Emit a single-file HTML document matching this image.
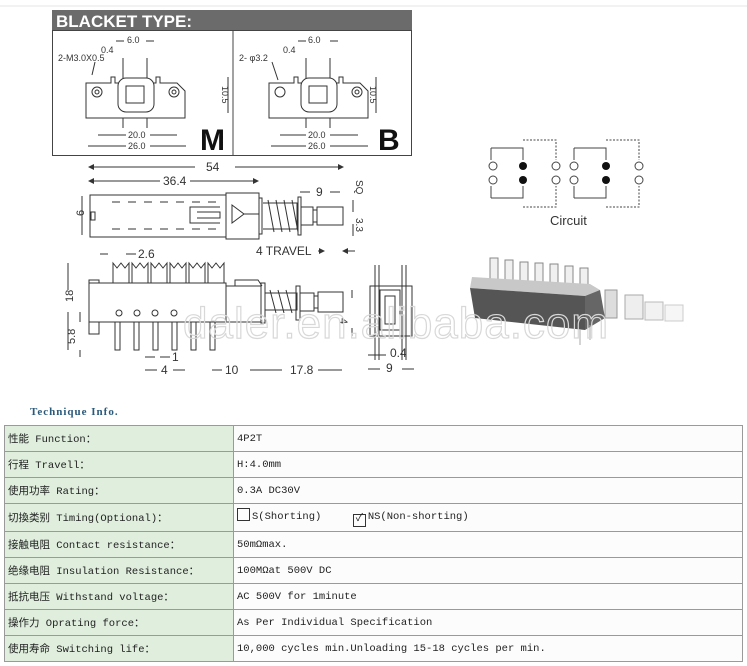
<!DOCTYPE html>
<html><head><meta charset="utf-8"><style>
body{margin:0;width:747px;height:666px;background:#fff;overflow:hidden;position:relative;font-family:"Liberation Sans",sans-serif}
svg{position:absolute;left:0;top:0}
.t{position:absolute;left:4px;top:425px;border-collapse:collapse;width:739px;font-family:"Liberation Mono","Noto Sans CJK SC",monospace;font-size:10.5px;color:#222}
.t td{border:1px solid #9a9a9a;height:25px;padding:0 0 0 3px;white-space:nowrap}
.t td.l{background:#dfeedd;width:225px}
.t td.r{background:#fcfcfc}
.hd{position:absolute;left:30px;top:406px;font-family:"Liberation Serif",serif;font-weight:bold;font-size:11px;color:#2a5a7a;letter-spacing:1px}
.bx{display:inline-block;width:11px;height:11px;border:1px solid #333;vertical-align:-2px;margin-right:2px}
</style></head><body>
<svg width="747" height="400" viewBox="0 0 747 400" font-family="Liberation Sans, sans-serif">
<defs><marker id="a" markerWidth="6" markerHeight="6" refX="5" refY="3" orient="auto-start-reverse"><path d="M0,0L6,3L0,6z" fill="#333"/></marker></defs>
<line x1="0" y1="6" x2="747" y2="6" stroke="#e4e4e4"/>
<rect x="52" y="10" width="360" height="20" fill="#6b6b6b"/>
<text x="56" y="27" fill="#fff" font-weight="bold" font-size="17">BLACKET TYPE:</text>
<rect x="52.5" y="30.5" width="359" height="125" fill="none" stroke="#444"/>
<line x1="233" y1="30" x2="233" y2="156" stroke="#444"/>
<g fill="none" stroke="#333" stroke-width="1">
<path d="M123,58V128M147,58V128M306,58V128M330,58V128"/>
<path d="M86,83H111V77H115V83H156V77H160V83H177L185,91V118H86Z" fill="#fff"/>
<rect x="118" y="78" width="36" height="34" rx="8" fill="#fff"/><rect x="126" y="86" width="18" height="17"/>
<circle cx="97" cy="92" r="5"/><circle cx="97" cy="92" r="2"/><circle cx="174" cy="92" r="5"/><circle cx="174" cy="92" r="2"/>
<path d="M95,62L92,75"/>
<path d="M228,77V113"/>
<path d="M269,83H294V77H298V83H339V77H343V83H360L368,91V118H269Z" fill="#fff"/>
<rect x="301" y="78" width="36" height="34" rx="8" fill="#fff"/><rect x="309" y="86" width="18" height="17"/>
<circle cx="280" cy="92" r="5"/><circle cx="357" cy="92" r="5"/><circle cx="357" cy="92" r="2"/>
<path d="M272,62L278,80"/>
<path d="M376,77V113"/>
</g>
<g font-size="9" fill="#333">
<text x="127" y="43">6.0</text><text x="101" y="53">0.4</text><text x="58" y="61">2-M3.0X0.5</text>
<text x="128" y="138">20.0</text><text x="128" y="149">26.0</text>
<text x="308" y="43">6.0</text><text x="283" y="53">0.4</text><text x="239" y="61">2- φ3.2</text>
<text x="308" y="138">20.0</text><text x="308" y="149">26.0</text>
<text x="222" y="86" transform="rotate(90 222 86)">10.5</text>
<text x="370" y="86" transform="rotate(90 370 86)">10.5</text>
</g>
<g stroke="#333" stroke-width="1">
<line x1="98" y1="135" x2="126" y2="135"/><line x1="150" y1="135" x2="177" y2="135"/>
<line x1="88" y1="146" x2="126" y2="146"/><line x1="150" y1="146" x2="186" y2="146"/>
<line x1="280" y1="135" x2="306" y2="135"/><line x1="330" y1="135" x2="358" y2="135"/>
<line x1="271" y1="146" x2="306" y2="146"/><line x1="330" y1="146" x2="368" y2="146"/>
<line x1="116" y1="41" x2="124" y2="41"/><line x1="146" y1="41" x2="154" y2="41"/>
<line x1="298" y1="41" x2="306" y2="41"/><line x1="330" y1="41" x2="338" y2="41"/>
</g>
<text x="200" y="150" font-size="30" font-weight="bold" fill="#111">M</text>
<text x="378" y="150" font-size="30" font-weight="bold" fill="#111">B</text>
<g stroke="#333" fill="none">
<line x1="89" y1="167" x2="195" y2="167" marker-start="url(#a)"/><line x1="235" y1="167" x2="343" y2="167" marker-end="url(#a)"/>
<line x1="89" y1="181" x2="160" y2="181" marker-start="url(#a)"/><line x1="190" y1="181" x2="258" y2="181" marker-end="url(#a)"/>
<rect x="90" y="195" width="136" height="42"/>
<rect x="91" y="212" width="4" height="8"/>
<path d="M112,202h8m8,0h8m8,0h8m8,0h8m8,0h8m8,0h8m8,0h8M112,229h8m8,0h8m8,0h8m8,0h8m8,0h8m8,0h8m8,0h8"/>
<path d="M220,207H190V223H220M197,212H220V218H197"/>
<rect x="226" y="193" width="33" height="46"/><path d="M232,205L244,214L232,223Z M244,214H259"/>
<rect x="259" y="198" width="3" height="36"/>
<path d="M263,203H297V229H263M268,200L274,232M276,200L282,232M284,200L290,232M292,200L298,232"/>
<rect x="298" y="197" width="3" height="38"/><rect x="301" y="207" width="12" height="18"/><rect x="313" y="210" width="4" height="12"/><rect x="317" y="207" width="26" height="18"/>
<line x1="82" y1="196" x2="82" y2="235"/>
<line x1="353" y1="200" x2="353" y2="212"/><line x1="353" y1="224" x2="353" y2="236"/>
<line x1="300" y1="192" x2="310" y2="192"/><line x1="330" y1="192" x2="340" y2="192"/>
<line x1="318" y1="251" x2="324" y2="251" marker-end="url(#a)"/><line x1="343" y1="251" x2="355" y2="251" marker-start="url(#a)"/>
<line x1="100" y1="254" x2="108" y2="254"/><line x1="126" y1="254" x2="136" y2="254"/>
</g>
<g font-size="12" fill="#333">
<text x="206" y="171">54</text><text x="163" y="185">36.4</text><text x="316" y="196">9</text>
<text x="256" y="255">4 TRAVEL</text><text x="138" y="258">2.6</text>
<text x="77" y="223" transform="rotate(-90 77 216)" font-size="11">6</text>
<text x="356" y="218" transform="rotate(90 356 218)" font-size="10">3.3</text>
<text x="356" y="180" transform="rotate(90 356 180)" font-size="10">SQ</text>
<text x="70" y="305" transform="rotate(-90 70 302)" font-size="11">18</text>
<text x="68" y="343" transform="rotate(-90 72 340)" font-size="11">5.8</text>
<text x="172" y="361">1</text><text x="161" y="374">4</text><text x="225" y="374">10</text><text x="290" y="374">17.8</text>
<text x="390" y="357">0.4</text><text x="386" y="372">9</text>
<text x="347" y="325" transform="rotate(90 347 318)" font-size="11">4</text>
</g>
<g stroke="#333" fill="none">
<rect x="89" y="283" width="137" height="39"/><rect x="89" y="280" width="10" height="3"/><rect x="89" y="322" width="10" height="12"/>
<path d="M113,283V263l4,5l4,-5l4,5l4,-5V283M132,283V263l4,5l4,-5l4,5l4,-5V283M151,283V263l4,5l4,-5l4,5l4,-5V283M170,283V263l4,5l4,-5l4,5l4,-5V283M189,283V263l4,5l4,-5l4,5l4,-5V283M208,283V263l4,5l4,-5l4,5l4,-5V283"/>
<path d="M115,322V350h5V322M134,322V350h5V322M153,322V350h5V322M172,322V350h5V322M191,322V350h5V322M210,322V350h5V322"/>
<circle cx="119" cy="313" r="3"/><circle cx="137" cy="313" r="3"/><circle cx="155" cy="313" r="3"/><circle cx="174" cy="313" r="3"/>
<rect x="226" y="286" width="35" height="36"/><path d="M235,286V280H258L262,286"/>
<rect x="261" y="283" width="4" height="40"/><path d="M265,293H297V310H265M270,290L276,313M278,290L284,313M286,290L292,313"/>
<rect x="296" y="286" width="4" height="34"/><rect x="300" y="293" width="14" height="18"/><rect x="314" y="296" width="4" height="12"/><rect x="318" y="292" width="25" height="20"/>
<line x1="68" y1="263" x2="68" y2="290"/><line x1="68" y1="312" x2="68" y2="350"/>
<line x1="80" y1="312" x2="80" y2="322"/><line x1="80" y1="350" x2="80" y2="357"/>
<line x1="352" y1="290" x2="352" y2="298"/><line x1="352" y1="328" x2="352" y2="336"/>
<rect x="370" y="286" width="42" height="50"/><rect x="380" y="290" width="20" height="40"/><rect x="385" y="296" width="10" height="28"/>
<path d="M375,265V360M379,265V360M402,265V360M406,265V360"/>
<line x1="145" y1="357" x2="155" y2="357"/><line x1="160" y1="357" x2="170" y2="357"/>
<line x1="145" y1="370" x2="157" y2="370"/><line x1="173" y1="370" x2="185" y2="370"/>
<line x1="212" y1="370" x2="222" y2="370"/><line x1="250" y1="370" x2="282" y2="370"/><line x1="318" y1="370" x2="342" y2="370"/>
<line x1="368" y1="355" x2="386" y2="355"/><line x1="368" y1="369" x2="380" y2="369"/><line x1="402" y1="369" x2="414" y2="369"/>
</g>
<g stroke="#444" fill="none">
<path d="M491,148H523V160M491,148V160M491,198H523V186M491,198V186"/>
<path d="M523,140H556V160M523,207H556V186" stroke-dasharray="2,1.5"/>
<path d="M574,148H606V160M574,148V160M574,198H606V186M574,198V186"/>
<path d="M606,140H639V160M606,207H639V186" stroke-dasharray="2,1.5"/>
<circle cx="493" cy="166" r="4" fill="#fff"/><circle cx="493" cy="180" r="4" fill="#fff"/><circle cx="556" cy="166" r="4" fill="#fff"/><circle cx="556" cy="180" r="4" fill="#fff"/>
<circle cx="574" cy="166" r="4" fill="#fff"/><circle cx="574" cy="180" r="4" fill="#fff"/><circle cx="639" cy="166" r="4" fill="#fff"/><circle cx="639" cy="180" r="4" fill="#fff"/>
</g>
<g fill="#111"><circle cx="523" cy="166" r="4"/><circle cx="523" cy="180" r="4"/><circle cx="606" cy="166" r="4"/><circle cx="606" cy="180" r="4"/></g>
<text x="550" y="225" font-size="13" fill="#333">Circuit</text>
<g stroke="#888" fill="#f0f0f0">
<path d="M490,285V258h8v27M505,285V260h8v25M520,287V262h8v25M535,288V263h8v25M550,289V264h8v25M565,290V266h8v24M580,291V268h8v23"/>
</g>
<path d="M472,277L590,284L600,290L585,296L470,288Z" fill="#c8c8c8"/>
<path d="M470,288L585,296L585,330L475,318Z" fill="#555"/>
<path d="M585,296L600,290L605,318L585,330Z" fill="#666"/>
<rect x="605" y="290" width="12" height="28" fill="#ddd" stroke="#999"/>
<rect x="625" y="295" width="18" height="24" fill="#eee" stroke="#aaa"/>
<rect x="645" y="302" width="18" height="18" fill="#f2f2f2" stroke="#bbb"/>
<rect x="665" y="305" width="18" height="16" fill="#f6f6f6" stroke="#ccc"/>
<path d="M580,330V345M590,325V340" stroke="#aaa"/>
<text x="183" y="338" font-size="44" fill="none" stroke="#d8d8d8" stroke-width="1.2" letter-spacing="1">daler.en.alibaba.com</text>
<path d="M5,413a5,5 0 0 0 12,0" fill="none" stroke="#e0a020" stroke-width="3"/>
<path d="M11,407v7" stroke="#e0a020" stroke-width="2"/>
</svg>
<div class="hd">Technique Info.</div>
<table class="t">
<tr><td class="l">性能 Function：</td><td class="r">4P2T</td></tr>
<tr><td class="l">行程 Travell：</td><td class="r">H:4.0mm</td></tr>
<tr><td class="l">使用功率 Rating：</td><td class="r">0.3A DC30V</td></tr>
<tr><td class="l" style="height:27px">切換类别 Timing(Optional)：</td><td class="r"><span class="bx"></span>S(Shorting) &nbsp; &nbsp; <span class="bx" style="text-align:center;line-height:9px">✓</span>NS(Non-shorting)</td></tr>
<tr><td class="l">接触电阻 Contact resistance：</td><td class="r">50mΩmax.</td></tr>
<tr><td class="l">绝缘电阻 Insulation Resistance：</td><td class="r">100MΩat 500V DC</td></tr>
<tr><td class="l">抵抗电压 Withstand voltage：</td><td class="r">AC 500V for 1minute</td></tr>
<tr><td class="l">操作力 Oprating force：</td><td class="r">As Per Individual Specification</td></tr>
<tr><td class="l">使用寿命 Switching life：</td><td class="r">10,000 cycles min.Unloading 15-18 cycles per min.</td></tr>
</table>
</body></html>
